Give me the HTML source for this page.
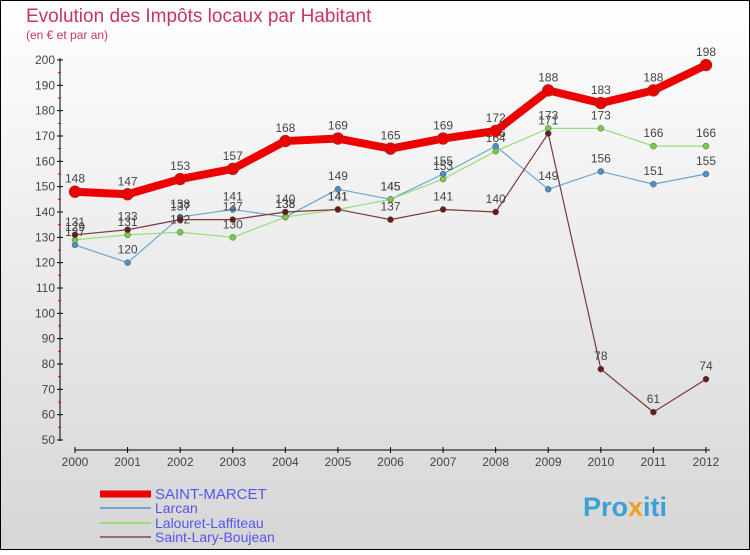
<!DOCTYPE html>
<html><head><meta charset="utf-8"><style>
body{margin:0;}
svg text{font-family:"Liberation Sans",sans-serif;}
</style></head><body>
<svg width="750" height="550" xmlns="http://www.w3.org/2000/svg">
<defs><linearGradient id="bg" x1="0" y1="0" x2="0" y2="1"><stop offset="0" stop-color="#ffffff"/><stop offset="1" stop-color="#d6d6d6"/></linearGradient></defs>
<rect x="0.5" y="0.5" width="749" height="549" fill="url(#bg)" stroke="#000"/>
<text x="26" y="22" font-size="19" fill="#c8336a">Evolution des Impôts locaux par Habitant</text>
<text x="26" y="39" font-size="12" fill="#c8336a">(en € et par an)</text>
<g id="axes"></g>
<g id="series"></g>
<g id="legend"></g>
<text x="583" y="516" font-size="27" font-weight="bold" fill="#3aa0d8">Pro<tspan fill="#f0a020">x</tspan>iti</text>
</svg>
<script>
const years=[2000,2001,2002,2003,2004,2005,2006,2007,2008,2009,2010,2011,2012];
const yTicks=[50,60,70,80,90,100,110,120,130,140,150,160,170,180,190,200];
const stMarcet=[148,147,153,157,168,169,165,169,172,188,183,188,198];
const larcan=[127,120,138,141,138,149,145,155,166,149,156,151,155];
const lalouret=[129,131,132,130,138,141,145,153,164,173,173,166,166];
const stLary=[131,133,137,137,140,141,137,141,140,171,78,61,74];
const NS="http://www.w3.org/2000/svg";
const X=i=>75+i*(706-75)/12;
const Y=v=>440-(v-50)*(380/150);
function mk(tag,attrs,parent){const e=document.createElementNS(NS,tag);for(const k in attrs)e.setAttribute(k,attrs[k]);parent.appendChild(e);return e;}
const axes=document.getElementById('axes');
let l=mk('line',{x1:60,y1:58,x2:60,y2:441,stroke:'#000'},axes);


yTicks.forEach(v=>{
 const t=mk('line',{x1:57,y1:Y(v),x2:63,y2:Y(v),stroke:'#000'},axes);
 
 
 if(v<200){const m=mk('line',{x1:58,y1:Y(v+5),x2:61,y2:Y(v+5),stroke:'#e00'},axes);
 
 }
 const tx=mk('text',{x:55,y:Y(v)+4,'font-size':12,'text-anchor':'end',fill:'#444'},axes);tx.textContent=v;
 
 
});
l=mk('line',{x1:75,y1:450,x2:710,y2:450,stroke:'#000'},axes);


years.forEach((y,i)=>{
 const t=mk('line',{x1:X(i),y1:447,x2:X(i),y2:453,stroke:'#000'},axes);
 
 
 const tx=mk('text',{x:X(i),y:466,'font-size':12,'text-anchor':'middle',fill:'#444'},axes);tx.textContent=y;
 
 
});
const S=document.getElementById('series');
function draw(data,color,width,r,dot,name){
 const g=mk('g',{},S);
 
 
 const p=mk('polyline',{points:data.map((v,i)=>X(i)+','+Y(v)).join(' '),fill:'none',stroke:color,'stroke-width':width,'stroke-linejoin':'round'},g);
 
 
 data.forEach((v,i)=>{
  const c=mk('circle',{cx:X(i),cy:Y(v),r:r,fill:dot,stroke:'#555','stroke-width':0.5},g);
  
  
  const t=mk('text',{x:X(i),y:Y(v)-9,'font-size':12,'text-anchor':'middle',fill:'#444'},g);t.textContent=v;
  
  
 });
}
draw(larcan,'#6aa6d0',1.2,3,'#4a90c8','larcan');
draw(lalouret,'#99dd77',1.2,3,'#77cc44','lalouret-laffiteau');
draw(stLary,'#7a3a3a',1.2,3,'#6a1a1a','saint-lary-boujean');
draw(stMarcet,'#ee0000',8,6,'#ee0000','saint-marcet');
const L=document.getElementById('legend');
[['SAINT-MARCET','#ee0000',7,494,15],['Larcan','#6aa6d0',2,508,14],['Lalouret-Laffiteau','#99dd77',2,523,14],['Saint-Lary-Boujean','#9a6a6a',2,537,14]].forEach(([n,c,w,y,fs])=>{
 const g=mk('g',{},L);
 
 
 mk('line',{x1:100,y1:y,x2:151,y2:y,stroke:c,'stroke-width':w},g);
 const t=mk('text',{x:155,y:y+5,'font-size':fs,fill:'#5555ee'},g);t.textContent=n;
 
 
});
</script>
</body></html>
